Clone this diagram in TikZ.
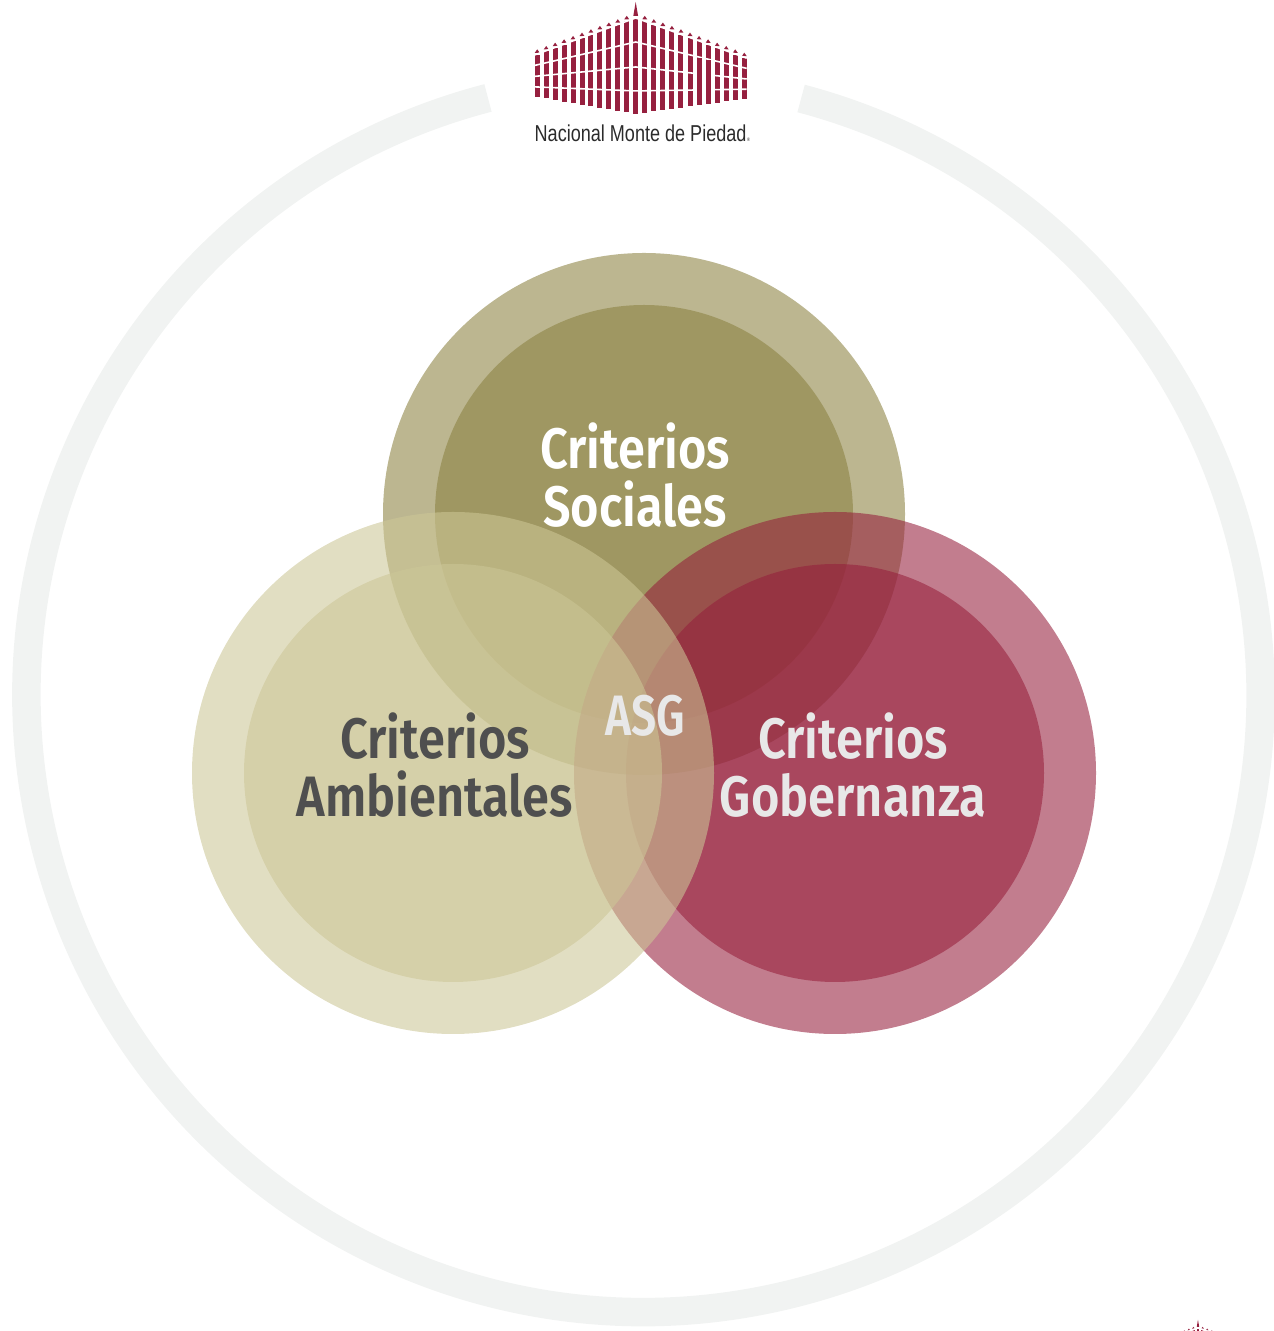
\documentclass[tikz,border=0pt]{standalone}
\usetikzlibrary{calc}
\usepackage{fontspec}
\setmainfont{Liberation Sans}
\newfontfamily\condfont[FakeStretch=0.855]{Fira Sans SemiBold}
\newfontfamily\asgfont[FakeStretch=0.78]{Fira Sans SemiBold}
\newfontfamily\logofont[FakeStretch=0.785]{Liberation Sans}
\definecolor{ringgray}{HTML}{F1F3F2}
\definecolor{oliveC}{RGB}{139,129,64}
\definecolor{sandC}{RGB}{204,198,150}
\definecolor{wineC}{RGB}{150,31,60}
\definecolor{logored}{HTML}{96203F}
\definecolor{lighttxt}{HTML}{E8E8E8}
\definecolor{darktxt}{HTML}{4F4F4F}
\definecolor{logotxt}{HTML}{2B2B2B}
\tikzset{
  venn/.style={fill=#1,fill opacity=0.58,draw=none},
  biglabel/.style={font=\condfont\fontsize{57}{58}\selectfont,align=center,inner sep=0pt,text opacity=1},
  logobar/.style={fill=logored,draw=none},
}
\newcommand{\logoart}[1]{%
  \begin{scope}[shift={#1}]
  \foreach \i in {0,...,23}{
    \pgfmathsetmacro\dd{\i-11}
    \pgfmathsetmacro\xx{\dd*(\dd<0 ? 8.95 : 9.05)}
    \pgfmathsetmacro\yt{-3.35*abs(\dd)}
    \pgfmathsetmacro\yb{-96+abs(\dd)*(\dd<0 ? 1.55 : 1.25)}
    \fill[logobar] (\xx-2.5,\yt) rectangle (\xx+2.5,\yb);
    \ifnum\i=11\relax\else
      \fill[logobar] (\xx-2.5,\yt+2) -- (\xx,\yt+5.5) -- (\xx+2.5,\yt+2) -- cycle;
    \fi
  }
  \fill[logobar] (-2.4,2) -- (0,16) -- (2.4,2) -- cycle;
  \foreach \f in {0,0.25,0.51,0.76}{
    \pgfmathsetmacro\la{-36.9+\f*(-79+36.9)}
    \pgfmathsetmacro\pa{\f*(-96)}
    \pgfmathsetmacro\ra{-40.2+\f*(-81+40.2)}
    \draw[white,line width=1.6pt] (-101,\la) -- (0,\pa) -- (111,\ra);
  }
  \foreach \i in {18,19}{
    \pgfmathsetmacro\dd{\i-11}
    \pgfmathsetmacro\xx{\dd*9.05}
    \pgfmathsetmacro\yt{-3.35*abs(\dd)}
    \pgfmathsetmacro\yb{-96+abs(\dd)*1.25}
    \pgfmathsetmacro\ys{\yt+0.26*(\yb-\yt)}
    \fill[logobar] (\xx-2.5,\ys) rectangle (\xx+2.5,\yb);
  }
  \end{scope}%
}
\begin{document}
\begin{tikzpicture}[x=1pt,y=1pt]
\useasboundingbox (0,0) rectangle (1274,1331);
\coordinate (ringc) at (643.5,636);
\draw[ringgray,line width=28.5pt] ($(ringc)+(104.6:617pt)$) arc[start angle=104.6,end angle=435.2,radius=617pt];
% social
\fill[venn=oliveC] (644,817) circle[radius=261pt];
\fill[venn=oliveC] (644,817) circle[radius=209pt];
% governance
\fill[venn=wineC] (835,558) circle[radius=261pt];
\fill[venn=wineC] (835,558) circle[radius=209pt];
% environment
\fill[venn=sandC] (453,558) circle[radius=261pt];
\fill[venn=sandC] (453,558) circle[radius=209pt];
\node[biglabel,text=white] (soc) at (635,855.5) {Criterios\\Sociales};
\node[biglabel,text=darktxt] (amb) at (435,565.5) {Criterios\\Ambientales};
\node[biglabel,text=lighttxt] (gob) at (853,565.5) {Criterios\\Gobernanza};
\node[biglabel,font=\asgfont\fontsize{57}{58}\selectfont,text=lighttxt] (asg) at (645,615) {ASG};
% logo
\logoart{(635.7,1313)}
\node[font=\logofont\fontsize{23}{23}\selectfont,text=logotxt,inner sep=0pt,anchor=base west] (logotext) at (534.5,1189) {Nacional Monte de Piedad};
\node[font=\logofont\fontsize{5}{5}\selectfont,text=logotxt,inner sep=0pt,anchor=base west] (logoreg) at (747,1189) {®};
\begin{scope}
\clip (0,0) rectangle (1274,1331);
\begin{scope}[scale=0.51]
\logoart{(2349,6)}
\end{scope}
\end{scope}
\end{tikzpicture}
\end{document}
